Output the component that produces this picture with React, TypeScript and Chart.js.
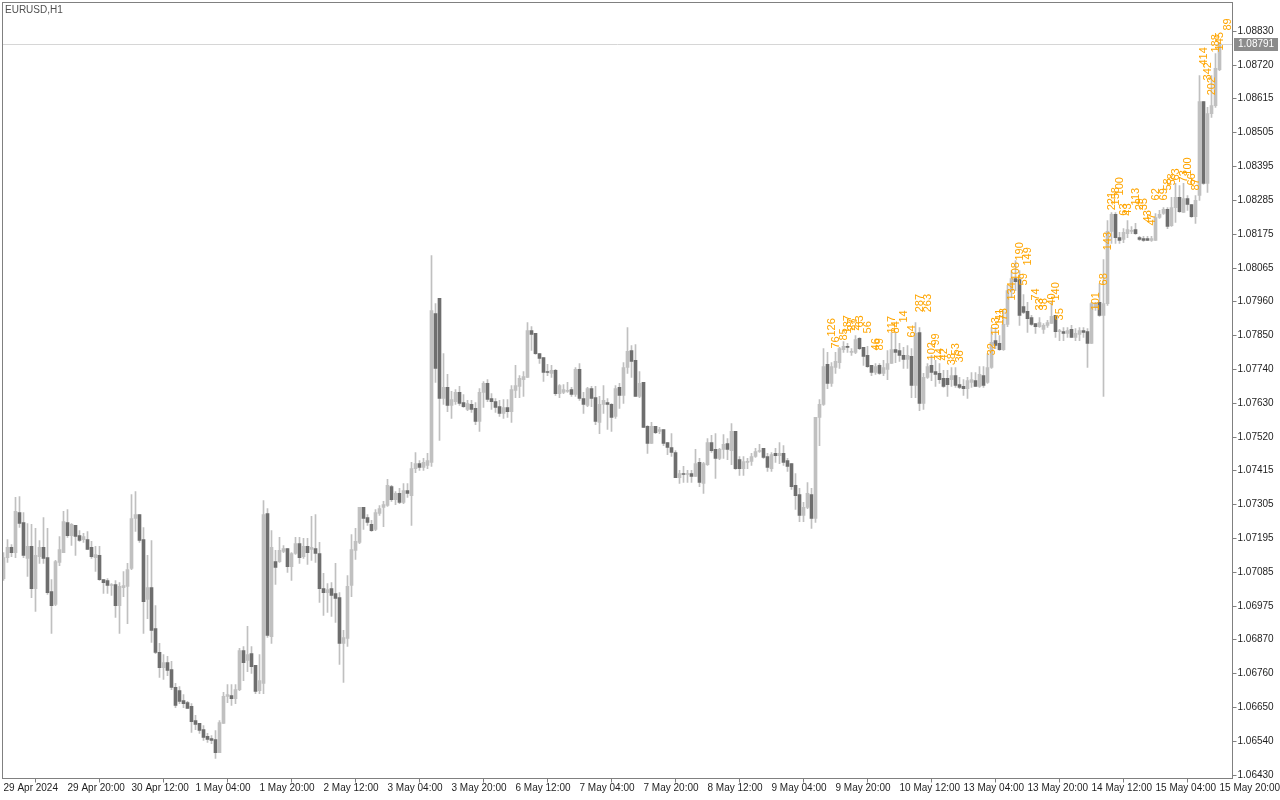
import React, { useEffect, useRef } from 'react';
import { Chart, registerables } from 'chart.js';

Chart.register(...registerables);

const SYMBOL_TITLE = 'EURUSD,H1';
const CURRENT_PRICE = 1.08791;

// time axis labels, one every 16 hourly bars
const timeTickLabels = [
  '29 Apr 2024', '29 Apr 20:00', '30 Apr 12:00', '1 May 04:00', '1 May 20:00',
  '2 May 12:00', '3 May 04:00', '3 May 20:00', '6 May 12:00', '7 May 04:00',
  '7 May 20:00', '8 May 12:00', '9 May 04:00', '9 May 20:00', '10 May 12:00',
  '13 May 04:00', '13 May 20:00', '14 May 12:00', '15 May 04:00', '15 May 20:00',
];
const BARS_PER_TIME_TICK = 16;

const priceTicks = [
  1.0883, 1.0872, 1.08615, 1.08505, 1.08395, 1.08285, 1.08175, 1.08065, 1.0796, 1.0785,
  1.0774, 1.0763, 1.0752, 1.07415, 1.07305, 1.07195, 1.07085, 1.06975, 1.0687, 1.0676,
  1.0665, 1.0654, 1.0643,
];

const opens = [
  1.07065,1.07133,1.07166,1.07149,1.07278,1.07246,1.07130,1.07169,1.07033,1.07136,
  1.07166,1.07133,1.07023,1.06982,1.07117,1.07149,1.07246,1.07204,1.07237,1.07204,
  1.07191,1.07191,1.07166,1.07133,1.07140,1.07062,1.07059,1.07043,1.07046,1.06978,
  1.07036,1.07040,1.07098,1.07259,1.07272,1.07191,1.06998,1.07036,1.06904,1.06827,
  1.06778,1.06794,1.06772,1.06714,1.06704,1.06672,1.06665,1.06653,1.06607,1.06598,
  1.06578,1.06556,1.06549,1.06546,1.06504,1.06598,1.06685,1.06688,1.06678,1.06707,
  1.06833,1.06801,1.06823,1.06785,1.06704,1.06727,1.07275,1.06878,1.07120,1.07120,
  1.07153,1.07162,1.07104,1.07146,1.07178,1.07136,1.07169,1.07159,1.07162,1.07146,
  1.07033,1.07020,1.07033,1.07017,1.07004,1.06856,1.06872,1.07043,1.07156,1.07182,
  1.07295,1.07262,1.07240,1.07224,1.07275,1.07295,1.07301,1.07362,1.07320,1.07340,
  1.07311,1.07349,1.07333,1.07420,1.07436,1.07424,1.07430,1.07440,1.07920,1.07969,
  1.07646,1.07682,1.07624,1.07636,1.07666,1.07633,1.07611,1.07627,1.07614,1.07572,
  1.07666,1.07695,1.07646,1.07636,1.07620,1.07598,1.07617,1.07604,1.07672,1.07685,
  1.07707,1.07714,1.07865,1.07856,1.07791,1.07778,1.07733,1.07727,1.07737,1.07662,
  1.07666,1.07669,1.07675,1.07659,1.07740,1.07646,1.07624,1.07678,1.07649,1.07569,
  1.07627,1.07633,1.07627,1.07588,1.07682,1.07656,1.07746,1.07801,1.07769,1.07653,
  1.07698,1.07556,1.07501,1.07556,1.07540,1.07546,1.07504,1.07488,1.07472,1.07391,
  1.07404,1.07401,1.07404,1.07395,1.07440,1.07372,1.07433,1.07504,1.07482,1.07453,
  1.07482,1.07501,1.07478,1.07540,1.07449,1.07420,1.07440,1.07443,1.07459,1.07475,
  1.07485,1.07459,1.07420,1.07469,1.07462,1.07469,1.07446,1.07436,1.07366,1.07336,
  1.07269,1.07295,1.07336,1.07259,1.07585,1.07627,1.07756,1.07695,1.07746,1.07762,
  1.07804,1.07814,1.07795,1.07795,1.07840,1.07811,1.07785,1.07753,1.07730,1.07753,
  1.07727,1.07740,1.07759,1.07804,1.07801,1.07785,1.07772,1.07782,1.07688,1.07859,
  1.07630,1.07714,1.07753,1.07733,1.07727,1.07711,1.07711,1.07707,1.07720,1.07691,
  1.07685,1.07678,1.07698,1.07704,1.07685,1.07720,1.07698,1.07746,1.07833,1.07824,
  1.07804,1.07885,1.07994,1.08033,1.08030,1.07943,1.07927,1.07907,1.07888,1.07878,
  1.07869,1.07882,1.07888,1.07914,1.07862,1.07862,1.07856,1.07869,1.07843,1.07853,
  1.07865,1.07862,1.07824,1.07940,1.07956,1.07914,1.07952,1.08185,1.08240,1.08165,
  1.08159,1.08178,1.08185,1.08191,1.08165,1.08162,1.08162,1.08156,1.08156,1.08230,
  1.08243,1.08256,1.08204,1.08262,1.08295,1.08246,1.08291,1.08272,1.08233,1.08301,
  1.08604,1.08340,1.08565,1.08591,1.08707,
];

const highs = [
  1.07149,1.07191,1.07175,1.07327,1.07330,1.07278,1.07243,1.07240,1.07227,1.07188,
  1.07262,1.07227,1.07062,1.07124,1.07201,1.07282,1.07288,1.07243,1.07237,1.07220,
  1.07211,1.07217,1.07185,1.07169,1.07169,1.07062,1.07065,1.07049,1.07059,1.07052,
  1.07088,1.07114,1.07336,1.07346,1.07272,1.07230,1.07140,1.07188,1.06978,1.06856,
  1.06820,1.06814,1.06798,1.06727,1.06717,1.06691,1.06669,1.06662,1.06624,1.06598,
  1.06591,1.06566,1.06559,1.06575,1.06607,1.06698,1.06723,1.06723,1.06723,1.06840,
  1.06846,1.06911,1.06846,1.06785,1.06820,1.07317,1.07291,1.07220,1.07156,1.07198,
  1.07172,1.07162,1.07149,1.07198,1.07198,1.07195,1.07195,1.07266,1.07272,1.07182,
  1.07082,1.07049,1.07052,1.07114,1.07020,1.06898,1.07075,1.07207,1.07227,1.07295,
  1.07295,1.07272,1.07253,1.07288,1.07301,1.07314,1.07385,1.07366,1.07346,1.07356,
  1.07372,1.07372,1.07440,1.07472,1.07446,1.07453,1.07469,1.08107,1.07952,1.07969,
  1.07791,1.07724,1.07669,1.07675,1.07685,1.07659,1.07640,1.07640,1.07633,1.07678,
  1.07701,1.07707,1.07662,1.07646,1.07640,1.07643,1.07643,1.07688,1.07753,1.07720,
  1.07733,1.07891,1.07878,1.07856,1.07791,1.07778,1.07756,1.07753,1.07740,1.07691,
  1.07691,1.07698,1.07682,1.07746,1.07759,1.07666,1.07682,1.07685,1.07685,1.07653,
  1.07688,1.07646,1.07630,1.07688,1.07695,1.07762,1.07875,1.07817,1.07820,1.07733,
  1.07698,1.07559,1.07569,1.07556,1.07553,1.07546,1.07504,1.07533,1.07478,1.07414,
  1.07427,1.07414,1.07414,1.07482,1.07453,1.07440,1.07517,1.07527,1.07533,1.07485,
  1.07530,1.07517,1.07565,1.07540,1.07459,1.07459,1.07453,1.07469,1.07485,1.07498,
  1.07485,1.07469,1.07472,1.07485,1.07504,1.07494,1.07453,1.07436,1.07404,1.07356,
  1.07311,1.07375,1.07356,1.07585,1.07643,1.07807,1.07795,1.07762,1.07795,1.07811,
  1.07830,1.07824,1.07807,1.07849,1.07843,1.07811,1.07814,1.07753,1.07759,1.07759,
  1.07769,1.07801,1.07859,1.07859,1.07824,1.07811,1.07817,1.07807,1.07891,1.07875,
  1.07727,1.07759,1.07785,1.07769,1.07759,1.07737,1.07737,1.07746,1.07746,1.07714,
  1.07707,1.07714,1.07730,1.07730,1.07749,1.07749,1.07791,1.07875,1.07875,1.07849,
  1.07930,1.08011,1.08059,1.08091,1.08059,1.07981,1.07956,1.07914,1.07888,1.07907,
  1.07888,1.07898,1.07959,1.07914,1.07869,1.07875,1.07875,1.07882,1.07872,1.07875,
  1.07875,1.07872,1.07956,1.07956,1.08017,1.08094,1.08220,1.08246,1.08246,1.08182,
  1.08194,1.08220,1.08201,1.08211,1.08169,1.08169,1.08169,1.08169,1.08243,1.08253,
  1.08262,1.08262,1.08295,1.08340,1.08333,1.08340,1.08301,1.08272,1.08301,1.08688,
  1.08604,1.08585,1.08688,1.08759,1.08794,
];

const lows = [
  1.07059,1.07117,1.07136,1.07133,1.07230,1.07133,1.07072,1.07004,1.06959,1.07114,
  1.07114,1.07014,1.06888,1.06978,1.07107,1.07149,1.07198,1.07172,1.07140,1.07185,
  1.07182,1.07159,1.07130,1.07088,1.07059,1.07017,1.07017,1.07011,1.06940,1.06888,
  1.07007,1.06920,1.07094,1.07217,1.07182,1.06888,1.06936,1.06859,1.06823,1.06746,
  1.06740,1.06752,1.06707,1.06649,1.06662,1.06649,1.06646,1.06569,1.06578,1.06566,
  1.06543,1.06537,1.06533,1.06485,1.06504,1.06598,1.06665,1.06656,1.06662,1.06704,
  1.06736,1.06765,1.06759,1.06694,1.06694,1.06694,1.06875,1.06856,1.07046,1.07117,
  1.07149,1.07085,1.07059,1.07143,1.07114,1.07130,1.07111,1.07124,1.07117,1.06988,
  1.06946,1.06956,1.06943,1.06924,1.06788,1.06730,1.06846,1.07007,1.07127,1.07178,
  1.07224,1.07237,1.07217,1.07220,1.07269,1.07233,1.07298,1.07314,1.07304,1.07307,
  1.07307,1.07327,1.07237,1.07407,1.07414,1.07414,1.07420,1.07427,1.07698,1.07511,
  1.07627,1.07604,1.07582,1.07627,1.07624,1.07617,1.07607,1.07601,1.07562,1.07540,
  1.07617,1.07636,1.07611,1.07601,1.07588,1.07582,1.07585,1.07569,1.07649,1.07649,
  1.07653,1.07714,1.07801,1.07788,1.07759,1.07701,1.07720,1.07714,1.07656,1.07649,
  1.07662,1.07666,1.07653,1.07653,1.07640,1.07598,1.07620,1.07620,1.07562,1.07533,
  1.07598,1.07546,1.07540,1.07582,1.07614,1.07630,1.07727,1.07714,1.07653,1.07649,
  1.07553,1.07469,1.07501,1.07533,1.07533,1.07494,1.07465,1.07459,1.07391,1.07372,
  1.07375,1.07375,1.07375,1.07395,1.07362,1.07340,1.07430,1.07472,1.07388,1.07449,
  1.07453,1.07449,1.07433,1.07417,1.07398,1.07398,1.07420,1.07430,1.07456,1.07472,
  1.07453,1.07411,1.07411,1.07440,1.07436,1.07430,1.07411,1.07353,1.07288,1.07249,
  1.07249,1.07291,1.07227,1.07246,1.07494,1.07624,1.07678,1.07685,1.07727,1.07743,
  1.07795,1.07795,1.07785,1.07791,1.07804,1.07753,1.07746,1.07720,1.07724,1.07724,
  1.07720,1.07707,1.07759,1.07762,1.07766,1.07743,1.07743,1.07649,1.07649,1.07607,
  1.07611,1.07711,1.07704,1.07685,1.07695,1.07682,1.07653,1.07685,1.07682,1.07678,
  1.07656,1.07646,1.07682,1.07685,1.07682,1.07682,1.07695,1.07743,1.07807,1.07801,
  1.07801,1.07878,1.07971,1.07994,1.07882,1.07920,1.07859,1.07882,1.07856,1.07875,
  1.07856,1.07875,1.07888,1.07843,1.07833,1.07833,1.07843,1.07843,1.07833,1.07833,
  1.07843,1.07746,1.07824,1.07930,1.07911,1.07653,1.07946,1.08146,1.08146,1.08146,
  1.08149,1.08165,1.08178,1.08175,1.08156,1.08153,1.08156,1.08153,1.08156,1.08227,
  1.08240,1.08194,1.08201,1.08214,1.08246,1.08246,1.08253,1.08230,1.08211,1.08285,
  1.08337,1.08311,1.08553,1.08585,1.08704,
];

const closes = [
  1.07133,1.07166,1.07149,1.07282,1.07243,1.07140,1.07169,1.07033,1.07140,1.07166,
  1.07130,1.07020,1.06978,1.07120,1.07159,1.07249,1.07204,1.07240,1.07201,1.07188,
  1.07201,1.07159,1.07136,1.07143,1.07062,1.07052,1.07043,1.07046,1.06978,1.07040,
  1.07043,1.07094,1.07259,1.07272,1.07188,1.06991,1.07036,1.06898,1.06827,1.06778,
  1.06794,1.06769,1.06714,1.06656,1.06669,1.06662,1.06646,1.06604,1.06595,1.06575,
  1.06553,1.06546,1.06543,1.06504,1.06601,1.06685,1.06691,1.06678,1.06707,1.06833,
  1.06794,1.06820,1.06781,1.06701,1.06736,1.07272,1.06882,1.07166,1.07101,1.07156,
  1.07162,1.07104,1.07146,1.07178,1.07133,1.07169,1.07149,1.07166,1.07146,1.07033,
  1.07020,1.07030,1.07011,1.07001,1.06856,1.06875,1.07040,1.07159,1.07185,1.07295,
  1.07259,1.07246,1.07220,1.07278,1.07291,1.07304,1.07366,1.07320,1.07340,1.07311,
  1.07349,1.07340,1.07420,1.07436,1.07424,1.07440,1.07446,1.07930,1.07743,1.07646,
  1.07682,1.07624,1.07643,1.07666,1.07630,1.07620,1.07630,1.07611,1.07572,1.07666,
  1.07695,1.07643,1.07636,1.07617,1.07598,1.07617,1.07604,1.07675,1.07688,1.07711,
  1.07717,1.07865,1.07853,1.07791,1.07775,1.07730,1.07730,1.07737,1.07662,1.07688,
  1.07675,1.07672,1.07659,1.07740,1.07646,1.07627,1.07678,1.07646,1.07572,1.07627,
  1.07640,1.07627,1.07585,1.07678,1.07656,1.07746,1.07798,1.07766,1.07653,1.07695,
  1.07553,1.07501,1.07556,1.07536,1.07546,1.07501,1.07488,1.07472,1.07391,1.07404,
  1.07401,1.07404,1.07395,1.07436,1.07375,1.07436,1.07504,1.07478,1.07453,1.07482,
  1.07498,1.07482,1.07540,1.07420,1.07420,1.07443,1.07443,1.07459,1.07475,1.07478,
  1.07456,1.07424,1.07465,1.07462,1.07469,1.07440,1.07427,1.07362,1.07333,1.07269,
  1.07295,1.07340,1.07259,1.07585,1.07627,1.07749,1.07695,1.07749,1.07766,1.07807,
  1.07814,1.07811,1.07798,1.07836,1.07807,1.07782,1.07749,1.07730,1.07749,1.07727,
  1.07746,1.07759,1.07804,1.07795,1.07785,1.07772,1.07785,1.07688,1.07856,1.07630,
  1.07714,1.07749,1.07730,1.07724,1.07707,1.07685,1.07691,1.07720,1.07688,1.07682,
  1.07678,1.07704,1.07707,1.07685,1.07724,1.07688,1.07746,1.07827,1.07817,1.07804,
  1.07885,1.07994,1.08033,1.08023,1.07914,1.07924,1.07904,1.07885,1.07878,1.07891,
  1.07882,1.07891,1.07911,1.07862,1.07865,1.07856,1.07865,1.07843,1.07856,1.07865,
  1.07859,1.07824,1.07952,1.07952,1.07914,1.07952,1.08185,1.08240,1.08165,1.08156,
  1.08182,1.08191,1.08188,1.08178,1.08159,1.08156,1.08156,1.08162,1.08230,1.08240,
  1.08256,1.08201,1.08262,1.08295,1.08249,1.08291,1.08272,1.08233,1.08285,1.08604,
  1.08340,1.08565,1.08591,1.08711,1.08791,
];

// orange vertical numbers: bar index, price where the text starts, text
const markBar = [
  207, 208, 210, 211, 212, 213, 214, 216, 218, 219, 222, 223, 225, 227, 229, 231, 232, 233, 234, 235,
  237, 238, 239, 247, 248, 249, 250, 252, 253, 254, 255, 256, 258, 259, 260, 262, 263, 264, 273, 275,
  276, 277, 278, 279, 280, 281, 283, 284, 285, 286, 287, 288, 290, 291, 292, 293, 295, 296, 297, 298,
  300, 301, 302, 303, 304, 306,
];
const markPrice = [
  1.07846, 1.07807, 1.07833, 1.07856, 1.07865, 1.07865, 1.07875, 1.07856, 1.07801, 1.07801,
  1.07856, 1.07856, 1.07891, 1.07843, 1.07924, 1.07924, 1.07769, 1.07817, 1.07769, 1.07769,
  1.07753, 1.07785, 1.07762, 1.07785, 1.07849, 1.07882, 1.07898, 1.07962, 1.08027, 1.08091,
  1.08011, 1.08075, 1.07962, 1.0793, 1.0793, 1.07946, 1.07962, 1.07898, 1.0793, 1.08011,
  1.08124, 1.08253, 1.08269, 1.08301, 1.08236, 1.08236, 1.08269, 1.08253, 1.08253, 1.08214,
  1.08204, 1.08285, 1.08285, 1.08317, 1.08333, 1.08349, 1.08343, 1.08365, 1.08333, 1.08317,
  1.0872, 1.08672, 1.08624, 1.08762, 1.08769, 1.08833,
];
const markText = [
  '126', '76', '85', '187', '27', '22', '63', '56', '46', '89', '117', '84', '14', '64', '287', '263',
  '102', '99', '44', '42', '38', '53', '36', '32', '103', '111', '73', '134', '108', '190', '59', '149',
  '74', '33', '38', '40', '140', '35', '101', '68', '143', '221', '158', '100', '63', '43', '113', '29',
  '35', '43', '47', '62', '69', '58', '58', '63', '73', '100', '66', '87', '414', '342', '202', '188',
  '145', '89',
];

const BULL = '#c0c0c0';
const BEAR = '#6e6e6e';
const WICK = '#c0c0c0';
const FRAME = '#808080';
const TEXT = '#1e1e1e';
const MARK = '#ffa500';
const FONT = 'Liberation Sans, Arial, sans-serif';

const overlayPlugin = {
  id: 'mtOverlay',
  beforeDatasetsDraw(chart: any) {
    const { ctx, chartArea: a, scales } = chart;
    const y = Math.round(scales.y.getPixelForValue(CURRENT_PRICE)) + 0.5;
    ctx.save();
    ctx.strokeStyle = '#d6d6d6';
    ctx.lineWidth = 1;
    ctx.beginPath();
    ctx.moveTo(a.left, y);
    ctx.lineTo(a.right, y);
    ctx.stroke();
    ctx.restore();
  },
  afterDatasetsDraw(chart: any) {
    const { ctx, chartArea: a, scales } = chart;
    ctx.save();
    ctx.beginPath();
    ctx.rect(a.left, a.top, a.right - a.left, a.bottom - a.top);
    ctx.clip();
    ctx.fillStyle = MARK;
    ctx.font = `11px ${FONT}`;
    ctx.textAlign = 'left';
    ctx.textBaseline = 'middle';
    for (let k = 0; k < markBar.length; k++) {
      const x = scales.x.getPixelForValue(markBar[k]);
      const y = scales.y.getPixelForValue(markPrice[k]);
      ctx.save();
      ctx.translate(x, y);
      ctx.rotate(-Math.PI / 2);
      ctx.fillText(markText[k], 0, 0);
      ctx.restore();
    }
    ctx.restore();
  },
  afterDraw(chart: any) {
    const { ctx, chartArea: a, scales } = chart;
    ctx.save();
    ctx.strokeStyle = FRAME;
    ctx.lineWidth = 1;
    ctx.strokeRect(a.left, a.top, a.right - a.left, a.bottom - a.top);
    // current price tag
    const y = Math.round(scales.y.getPixelForValue(CURRENT_PRICE));
    ctx.fillStyle = '#8c8c8c';
    ctx.fillRect(a.right + 1.5, y - 6, 44, 13);
    ctx.fillStyle = '#ffffff';
    ctx.font = `10px ${FONT}`;
    ctx.textAlign = 'left';
    ctx.textBaseline = 'middle';
    ctx.fillText(CURRENT_PRICE.toFixed(5), a.right + 5.5, y + 0.5);
    // symbol title
    ctx.fillStyle = '#505050';
    ctx.fillText(SYMBOL_TITLE, 5, 10);
    ctx.restore();
  },
};

export default function App() {
  const ref = useRef<HTMLCanvasElement>(null);
  useEffect(() => {
    document.body.style.margin = '0';
    const canvas = ref.current;
    if (!canvas) return;
    const wickData = opens.map((_, i) => ({ x: i, y: [lows[i], highs[i]] }));
    const bodyData = opens.map((_, i) => ({ x: i, y: [opens[i], closes[i]] }));
    const chart = new Chart(canvas, {
      type: 'bar',
      data: {
        datasets: [
          {
            data: bodyData as any,
            backgroundColor: (c: any) => (closes[c.dataIndex] >= opens[c.dataIndex] ? BULL : BEAR),
            barThickness: 3,
            grouped: false,
            order: 1,
            minBarLength: 1,
            borderWidth: 0,
            clip: 0,
          } as any,
          {
            data: wickData as any,
            backgroundColor: WICK,
            barThickness: 1,
            grouped: false,
            order: 2,
            borderWidth: 0,
            clip: 0,
          } as any,
        ],
      },
      options: {
        responsive: false,
        animation: false,
        events: [],
        layout: { padding: { left: 2.5, top: 2.5, right: 0, bottom: 0 } },
        plugins: { legend: { display: false }, tooltip: { enabled: false }, title: { display: false } },
        scales: {
          x: {
            type: 'linear',
            min: -0.25,
            max: 307.25,
            offset: false,
            border: { display: false },
            grid: { drawOnChartArea: false, drawTicks: true, tickLength: 4, color: FRAME },
            afterBuildTicks: (s: any) => {
              s.ticks = timeTickLabels.map((_, k) => ({ value: k * BARS_PER_TIME_TICK }));
            },
            afterFit: (s: any) => {
              s.height = 21.5;
              s.paddingLeft = 0;
              s.paddingRight = 0;
            },
            ticks: {
              autoSkip: false,
              maxRotation: 0,
              minRotation: 0,
              align: 'start',
              padding: 0,
              color: TEXT,
              font: { family: FONT, size: 10 },
              callback: (v: any) => timeTickLabels[Math.round(Number(v) / BARS_PER_TIME_TICK)] ?? '',
            },
          },
          y: {
            type: 'linear',
            position: 'right',
            min: 1.064203,
            max: 1.089235,
            border: { display: false },
            grid: { drawOnChartArea: false, drawTicks: true, tickLength: 4, color: FRAME },
            afterBuildTicks: (s: any) => {
              s.ticks = priceTicks.map((v) => ({ value: v }));
            },
            afterFit: (s: any) => {
              s.width = 47.5;
              s.paddingTop = 0;
              s.paddingBottom = 0;
            },
            ticks: {
              autoSkip: false,
              padding: 1,
              color: TEXT,
              font: { family: FONT, size: 10 },
              callback: (v: any) => Number(v).toFixed(5),
            },
          },
        },
      } as any,
      plugins: [overlayPlugin],
    });
    return () => chart.destroy();
  }, []);
  return (
    <div style={{ width: 1280, height: 800, background: '#ffffff' }}>
      <canvas ref={ref} width={1280} height={800} style={{ display: 'block' }} />
    </div>
  );
}
